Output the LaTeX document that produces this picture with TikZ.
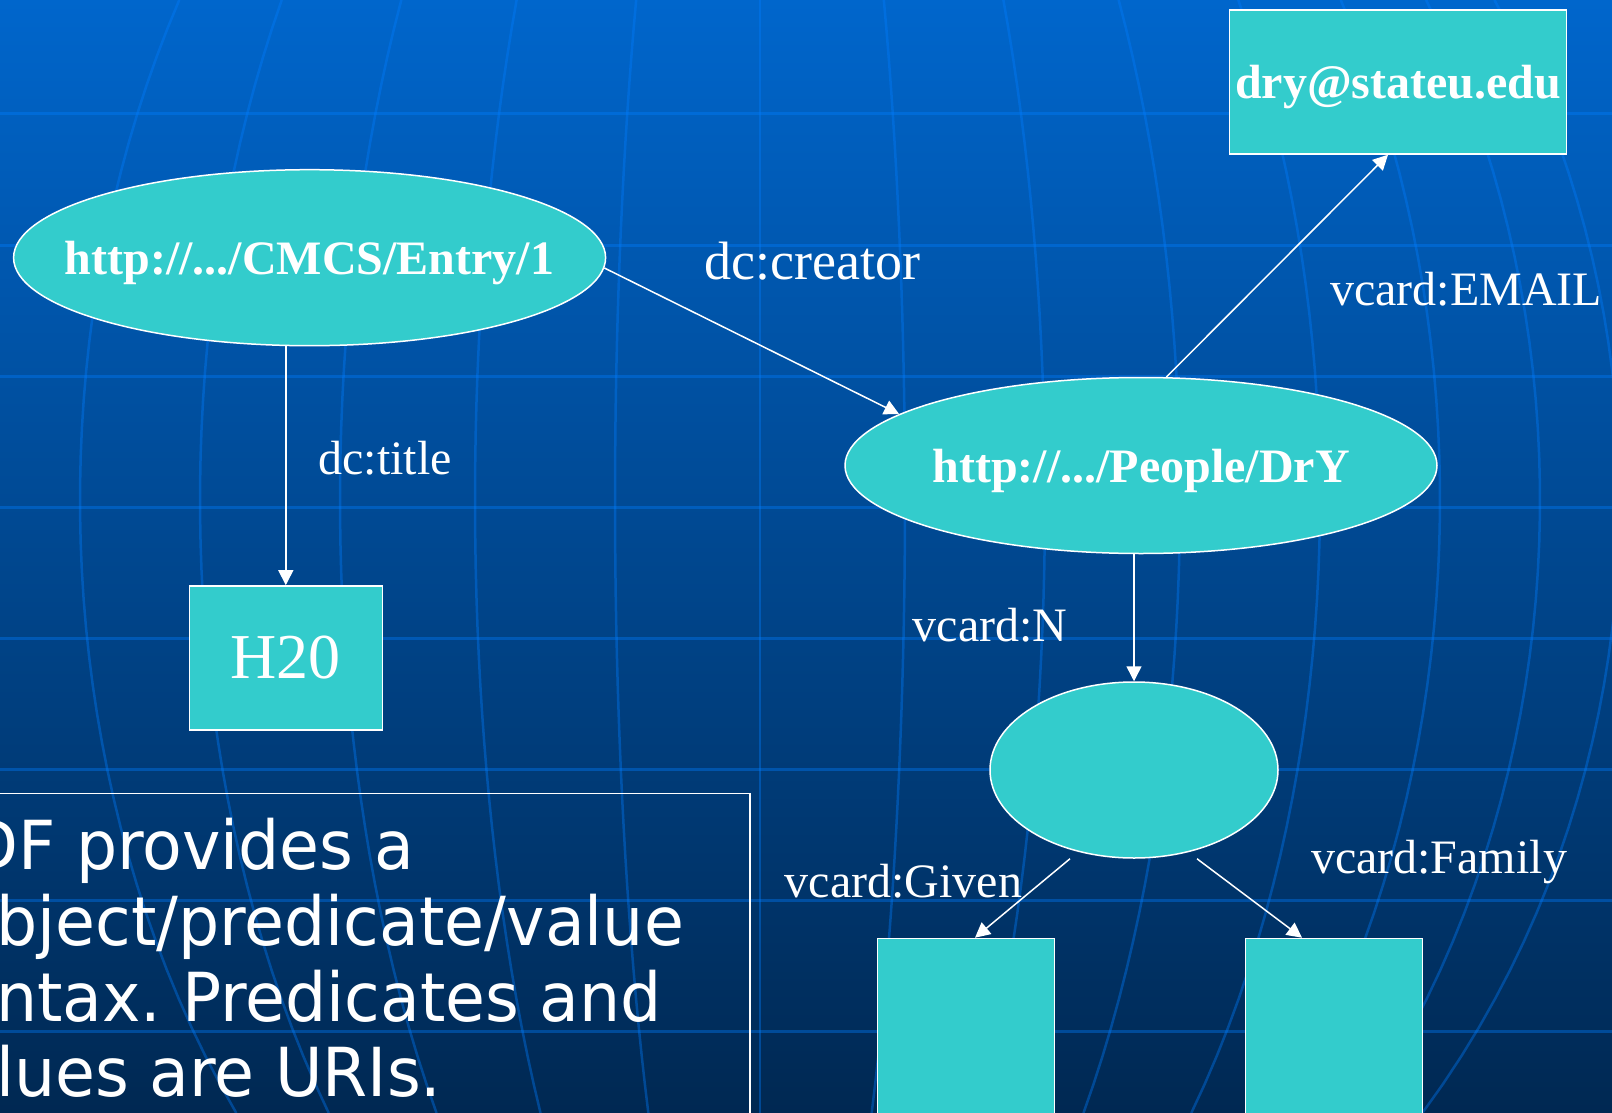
\documentclass[tikz,border=0pt]{standalone}
\usepackage{fontspec}
\setmainfont{Liberation Serif}
\newfontfamily\notefont[FakeStretch=0.96]{DejaVu Sans}
\usetikzlibrary{shapes.geometric,arrows.meta}
\frenchspacing

\definecolor{bgtop}{RGB}{0,102,204}
\definecolor{bgbot}{RGB}{0,40,82}
\definecolor{gridblue}{RGB}{0,125,255}
\definecolor{nodefill}{RGB}{51,204,204}

\tikzset{
  uri/.style={ellipse,draw=white,line width=1.5pt,fill=nodefill,inner sep=0pt,
    minimum width=592pt,minimum height=176pt},
  uritext/.style={text=white,font=\bfseries\fontsize{48}{58}\selectfont,
    text depth=0pt,inner sep=0pt},
  lit/.style={rectangle,draw=white,line width=1.5pt,fill=nodefill,inner sep=0pt},
  prop/.style={text=white,font=\fontsize{48}{58}\selectfont,inner sep=0pt,anchor=base},
  note/.style={text=white,font=\notefont\fontsize{67.6}{76}\selectfont,inner sep=0pt,
    anchor=base west},
  arr/.style={draw=white,line width=1.5pt,-{Triangle[length=15pt,width=15pt]}},
  gridline/.style={draw=gridblue,opacity=0.38,line width=3pt},
}

\begin{document}
\begin{tikzpicture}[x=1pt,y=-1pt]
  \useasboundingbox (0,0) rectangle (1612,1113);
  \clip (0,0) rectangle (1612,1113);

  % background and globe grid
  \shade[top color=bgtop,bottom color=bgbot] (0,0) rectangle (1612,1113);
  \foreach \y in {114,245,376,507,638,769,900,1031}
    \draw[gridline] (0,\y) -- (1612,\y);
  \foreach \a in {-680,-560,-420,-285,-145,0,145,285,420,560,680,780,860}
    \draw[gridline,line width=2.5pt] plot[domain=0:1113,samples=40,variable=\t]
      ({760+(\a)*sqrt(1-((\t-500)/961)^2)},\t);

  % resources
  \node[uri,label={[uritext]center:{http://.../CMCS/Entry/1}}] (cmcs) at (309.6,257.7) {};
  \node[uri,label={[uritext]center:{http://.../People/DrY}}] (people) at (1141,465.5) {};
  \node[uri,minimum width=288pt] (blank) at (1134,770) {};

  % literals
  \node[lit,minimum width=337pt,minimum height=144pt,text=white,
    font=\bfseries\fontsize{48}{58}\selectfont,text height=33pt,text depth=0pt]
    (email) at (1398,82) {dry@stateu.edu};
  \node[lit,minimum width=193pt,minimum height=144pt,text=white,
    font=\fontsize{64}{76}\selectfont] (h2o) at (285.8,657.9) {H20};
  \node[lit,minimum width=177pt,minimum height=200pt,anchor=north] (given) at (966,937.7) {};
  \node[lit,minimum width=177pt,minimum height=200pt,anchor=north] (family) at (1334,937.7) {};

  % properties
  \draw[arr] (cmcs.south -| h2o.north) -- (h2o.north);
  \draw[arr] (cmcs.-2) -- (people.168);
  \draw[arr] (people.74) -- ([xshift=-10pt]email.south);
  \draw[arr] (people.south -| blank.north) -- (blank.north);
  \draw[arr] ([xshift=-64pt]blank.south) -- ([xshift=9pt]given.north);
  \draw[arr] ([xshift=63pt]blank.south) -- ([xshift=-32pt]family.north);

  \node[prop,font=\fontsize{54}{64}\selectfont] (creator) at (812.5,279.3) {dc:creator};
  \node[prop] (title) at (385,474) {dc:title};
  \node[prop] (emaillbl) at (1466,305) {vcard:EMAIL};
  \node[prop] (nlbl) at (990,641.7) {vcard:N};
  \node[prop] (givenlbl) at (903.5,897.3) {vcard:Given};
  \node[prop] (familylbl) at (1439,873.3) {vcard:Family};

  % text box
  \draw[white,line width=1.5pt] (-10,793.3) rectangle (750,1140);
  \node[note] (line1) at (-32,869.3) {DF provides a};
  \node[note] (line2) at (-4,945) {bject/predicate/value};
  \node[note] (line3) at (-4,1021) {ntax. Predicates and};
  \node[note] (line4) at (-4,1096.7) {lues are URIs.};
\end{tikzpicture}
\end{document}
